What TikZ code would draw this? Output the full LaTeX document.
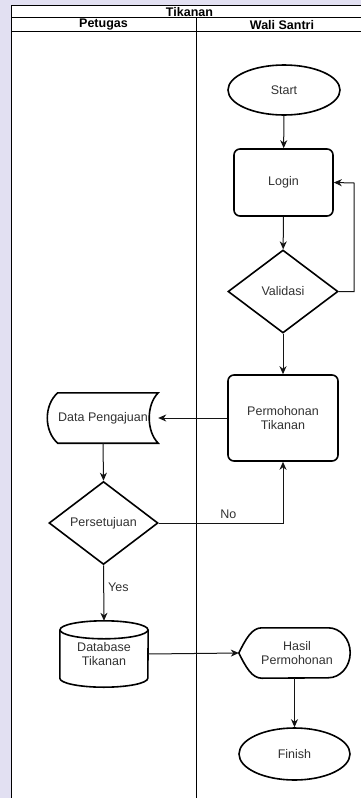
\documentclass[tikz,border=0pt]{standalone}
\usepackage{fontspec}
\setmainfont{Liberation Sans}
\usetikzlibrary{shapes.geometric,arrows.meta,calc}

\definecolor{wm}{RGB}{226,224,242}
\definecolor{txt}{RGB}{50,50,50}
\definecolor{edge}{RGB}{20,20,20}

\begin{document}
\begin{tikzpicture}[x=1pt,y=-1pt,
  font=\fontsize{12.5}{13.5}\selectfont,
  shapeline/.style={draw=black,line width=1.6pt,text=txt,align=center,inner sep=0pt},
  terminal/.style={shapeline,ellipse},
  process/.style={shapeline,rectangle,rounded corners=6pt},
  decision/.style={shapeline,diamond},
  holder/.style={rectangle,inner sep=0pt,text=txt,align=center},
  flow/.style={draw=edge,line width=1pt,-{Stealth[length=8pt,width=7pt,inset=2.5pt]}},
  lane/.style={draw=black,line width=0.9pt},
  lanetitle/.style={text=black,inner sep=0pt,font=\fontsize{12.5}{13.5}\selectfont\bfseries},
  edgelabel/.style={text=txt,inner sep=0pt}
]
\useasboundingbox (0,0) rectangle (361,798);
\clip (0,0) rectangle (361,798);

% page background and swimlane frame
\fill[wm] (0,0) rectangle (361,798);
\fill[white] (11.5,5.5) rectangle (361,798);
\draw[lane] (11.5,798) -- (11.5,5.5) -- (370,5.5);
\draw[lane] (11.5,17.5) -- (370,17.5);
\draw[lane] (11.5,31.5) -- (370,31.5);
\draw[lane] (196.5,17.5) -- (196.5,798);
\node[lanetitle] (pool) at (189.5,11.8) {Tikanan};
\node[lanetitle] (lane1) at (103.5,24.8) {Petugas};
\node[lanetitle] (lane2) at (282,24.8) {Wali Santri};

% Wali Santri lane
\node[terminal,minimum width=112pt,minimum height=50pt] (start) at (284,90) {Start};
\node[process,minimum width=99pt,minimum height=67pt] (login) at (283.5,182.5) {Login};
\node[decision,minimum width=110pt,minimum height=83pt] (val) at (283,291.5) {Validasi};
\node[process,minimum width=110pt,minimum height=86pt] (perm) at (283,418) {Permohonan\\Tikanan};

% Petugas lane
\node[holder,minimum width=110pt,minimum height=50pt] (dp) at (103,418) {Data Pengajuan};
\draw[shapeline] ($(dp.north west)+(10,0)$) -- (dp.north east)
  .. controls ($(dp.north east)+(-12,12)$) and ($(dp.south east)+(-12,-12)$) .. (dp.south east)
  -- ($(dp.south west)+(10,0)$)
  .. controls ($(dp.south west)+(-4,-12)$) and ($(dp.north west)+(-4,12)$) .. cycle;

\node[decision,minimum width=109pt,minimum height=83pt] (pers) at (103.5,523) {Persetujuan};

\node[holder,minimum width=88pt,minimum height=66pt] (db) at (104,654) {Database\\Tikanan};
\draw[shapeline] ($(db.north west)+(0,9)$) -- ($(db.south west)+(0,-9)$)
  arc[start angle=180,end angle=360,x radius=44pt,y radius=9pt]
  -- ($(db.north east)+(0,9)$);
\draw[shapeline] ($(db.north)+(0,9)$) ellipse[x radius=44pt,y radius=9pt];

\node[holder,minimum width=111pt,minimum height=50pt] (hp) at (294.5,653) {\hspace*{5pt}Hasil\\\hspace*{5pt}Permohonan};
\draw[shapeline] (hp.west)
  .. controls ($(hp.west)+(7,-14)$) and ($(hp.north west)+(13,0)$) .. ($(hp.north west)+(23,0)$)
  -- ($(hp.north east)+(-22,0)$)
  arc[start angle=90,end angle=-90,x radius=22pt,y radius=25pt]
  -- ($(hp.south west)+(23,0)$)
  .. controls ($(hp.south west)+(13,0)$) and ($(hp.west)+(7,14)$) .. cycle;

\node[terminal,minimum width=111pt,minimum height=52pt] (fin) at (294.5,754) {Finish};

% connectors
\coordinate (loop) at (354,183);
\draw[flow] (start) -- (login);
\draw[flow] (login) -- (val);
\draw[flow] (val.east) -| (loop) -- (login.east);
\draw[flow] (val) -- (perm);
\draw[flow] (perm.west) -- (dp.east);
\draw[flow] (dp.south) -- (pers.north);
\draw[flow] (pers.east) -| node[edgelabel,pos=0.28,above=4pt] {No} (perm.south);
\draw[flow] (pers.south) -- node[edgelabel,pos=0.39,right=4pt] {Yes} (db.north);
\draw[flow] (db.east) -- (hp.west);
\draw[flow] (hp.south) -- (fin.north);
\end{tikzpicture}
\end{document}
